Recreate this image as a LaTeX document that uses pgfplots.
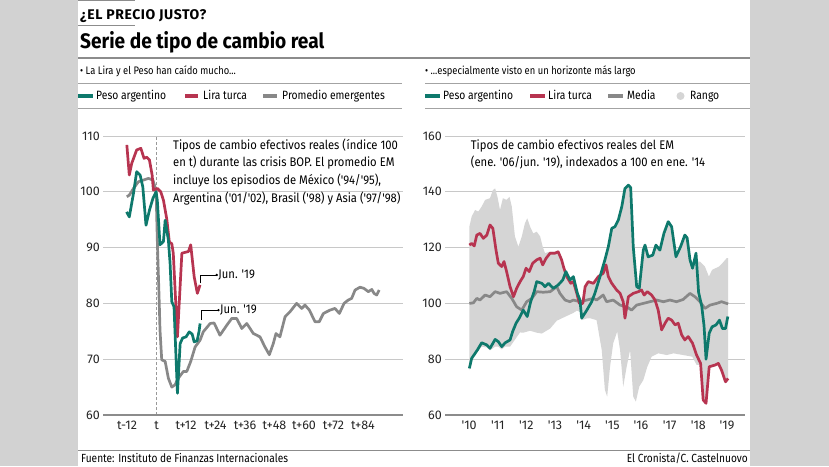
\documentclass[border=0pt]{standalone}
\usepackage{fontspec}
\setmainfont{Fira Sans}[FakeStretch=0.86, Numbers=Proportional]
\newfontfamily\plainfont{Fira Sans}[Numbers=Proportional]
\newfontfamily\annfont{Fira Sans}[FakeStretch=0.9, Numbers=Proportional]
\newfontfamily\kickfont{Fira Sans}[LetterSpace=4]
\newfontfamily\titlefont{Fira Sans}[FakeStretch=0.91]
\usepackage{pgfplots}
\pgfplotsset{compat=1.18}
\definecolor{teal1}{RGB}{14,121,108}
\definecolor{red1}{RGB}{183,52,80}
\definecolor{gray1}{RGB}{136,136,136}
\definecolor{band}{RGB}{213,213,213}
\definecolor{bg}{RGB}{210,210,210}
\definecolor{gridc}{RGB}{200,200,200}
\definecolor{rulec}{RGB}{140,140,140}
\newcommand{\fs}[1]{\fontsize{#1}{#1}\selectfont}
\pgfplotsset{mystyle/.style={
  scale only axis, width=300pt, height=279pt,
  axis line style={draw=none}, tick style={draw=none},
  ymajorgrids, major grid style={gridc, line width=0.7pt},
  clip=false,
  /pgf/number format/assume math mode=true,
  ticklabel style={font=\plainfont\fs{12.5}, text=black!85},
  yticklabel style={inner sep=0pt, xshift=-3pt},
  xticklabel style={inner sep=0pt, yshift=-6pt},
  every axis plot/.append style={line width=2.7pt, line join=round},
}}
\pgfplotstableread{
x y
-12.1 99.1
-11.1 99.4
-9.4 100.6
-7.4 101.8
-5.4 102.1
-3.3 102.4
-1.5 102.1
-0.2 100.3
0.3 91.4
1.1 80
1.4 75.2
2.1 69.9
3.5 69.6
4.8 66.6
6.2 65.0
7.5 65.4
8.7 66.5
10.9 67.8
12.3 67.8
13.9 69.6
15.7 72.2
17.7 73.4
19.0 74.9
21.8 76.4
23.4 76.5
25.8 74.3
28.6 76.1
30.6 77.3
32.6 77.3
34.7 75.5
36.7 76.4
39.4 74.6
42.1 74.0
44.1 72.2
45.9 70.8
47.5 72.8
48.6 74.6
50.2 74.0
52.3 77.6
54.3 78.5
57.0 80.0
59.1 79.1
60.4 79.7
62.2 78.8
64.5 76.7
66.2 76.7
67.9 78.2
70.6 78.8
72.6 79.1
74.4 78.2
76.3 80.0
78.0 80.6
79.4 80.9
80.8 82.4
82.8 82.9
84.4 82.7
86.2 82.1
87.6 82.5
88.5 81.8
89.6 81.5
90.6 82.4
}\emL
\pgfplotstableread{
x y
-12.1 108.4
-11.1 103
-10.1 105.1
-8.1 107.5
-6.4 107.8
-5.1 106
-4.0 106.2
-2.9 105.7
-1.8 103
-1.3 100.3
0.3 100.6
1.7 100
2.8 98.5
4.2 95
5.2 91
6.2 90.7
6.8 89
8.5 74
10.3 89
13.0 89.3
13.9 90.5
15.3 84.8
16.6 81.8
17.7 83.3
}\trL
\pgfplotstableread{
x y
-12.2 96.4
-11.1 95.5
-9.4 99.7
-8.1 103.6
-6.7 103
-5.6 100.9
-4.3 94
-2.9 96.7
-1.5 98.8
-0.2 100
0.3 98.5
1.4 90.5
2.8 91.1
3.5 94.9
4.8 91.4
5.5 87.2
6.2 80.3
7.1 79.4
8.5 63.9
9.6 72.8
10.6 73.8
12.0 74
13.3 74.9
14.5 74.5
15.3 73.1
16.5 73.3
17.3 75
17.7 76.4
}\arL
\pgfplotstableread{
x y
2010.01 76.7
2010.09 80.3
2010.21 82.1
2010.29 83.3
2010.44 85.9
2010.62 85.1
2010.73 83.9
2010.91 87.1
2011.02 86.3
2011.14 84.5
2011.26 85.9
2011.43 86.9
2011.52 89.9
2011.64 92.9
2011.75 94.7
2011.89 97.6
2012.03 95.3
2012.15 100.6
2012.27 104.2
2012.36 107.8
2012.54 107.2
2012.65 106
2012.77 107.2
2012.94 105.4
2013.11 106.6
2013.27 108.4
2013.38 111.4
2013.52 108.4
2013.64 109.6
2013.78 103.6
2013.87 101.2
2013.93 94.7
2014.11 97.6
2014.28 100.6
2014.39 103.6
2014.57 109.6
2014.74 115.6
2014.86 120.3
2014.98 126.9
2015.09 127.5
2015.21 129.9
2015.33 134.7
2015.44 141.2
2015.56 142.4
2015.64 141.5
2015.73 120.3
2015.85 106
2015.94 105.4
2016.08 119.1
2016.14 120.9
2016.25 116.7
2016.41 117.3
2016.52 120.9
2016.66 119.1
2016.80 125.1
2016.95 129.3
2017.07 127.5
2017.22 116.7
2017.38 120.3
2017.53 124.5
2017.61 123.5
2017.71 115.6
2017.80 112.6
2017.92 118
2018.01 104
2018.12 99
2018.20 92
2018.27 80
2018.38 89.3
2018.48 91.6
2018.62 92.3
2018.74 94
2018.84 91
2018.95 91
2019.03 95.3
}\arR
\pgfplotstableread{
x y
2010.01 120.9
2010.09 121.5
2010.18 120.6
2010.27 124.5
2010.38 125.1
2010.50 123.3
2010.62 124.5
2010.73 128.1
2010.83 126.9
2010.94 119.1
2011.02 114.4
2011.14 113.2
2011.22 115
2011.31 111.4
2011.43 106
2011.55 102.4
2011.66 105.4
2011.78 107.8
2011.89 109.6
2011.99 112.6
2012.10 111.4
2012.22 114.4
2012.36 115.6
2012.48 116.2
2012.57 113.8
2012.69 116.2
2012.83 118
2013.00 118
2013.11 118.5
2013.23 115.6
2013.31 112.6
2013.41 109.6
2013.55 107.2
2013.64 107.8
2013.76 103.6
2013.85 100
2013.97 100
2014.05 106
2014.16 107.8
2014.34 107.2
2014.51 109.6
2014.68 110.8
2014.78 113.8
2014.86 109.6
2014.98 107.2
2015.15 104.8
2015.27 103.6
2015.38 100.6
2015.44 94.7
2015.56 102.4
2015.73 103.6
2015.91 104.2
2016.02 104.8
2016.11 103
2016.22 104.2
2016.37 103
2016.49 101.2
2016.60 97.6
2016.72 90.5
2016.84 92.9
2016.95 94.7
2017.07 94
2017.19 92.3
2017.30 92.9
2017.42 88.7
2017.53 86.9
2017.65 88.1
2017.80 85.7
2017.94 81.5
2018.08 78.5
2018.17 65.4
2018.27 64.2
2018.38 77.3
2018.58 77.9
2018.70 78.5
2018.81 76.1
2018.95 71.9
2019.04 73.1
}\trR
\pgfplotstableread{
x y
2010.01 100
2010.15 100.2
2010.27 101.8
2010.38 101.2
2010.56 103
2010.73 102.4
2010.91 104.2
2011.08 103.6
2011.31 104.2
2011.49 101.8
2011.66 98.8
2011.84 97.6
2012.01 100.6
2012.19 101.8
2012.36 104.2
2012.59 104
2012.83 104.2
2013.06 106
2013.17 103.6
2013.35 101.2
2013.52 100.6
2013.64 101.2
2013.87 100.6
2014.11 101.2
2014.34 101.8
2014.45 101.2
2014.68 103
2014.80 100.6
2015.03 101.2
2015.27 99.4
2015.50 98.8
2015.67 97.6
2015.85 99.4
2016.08 100
2016.31 100.6
2016.55 101.2
2016.78 100.6
2017.01 101.2
2017.24 100.6
2017.47 101.4
2017.71 103.6
2017.88 102.4
2018.06 100.6
2018.23 98.2
2018.41 99.4
2018.64 100
2018.81 100.6
2018.99 100
2019.04 99.8
}\emR
% range band: upper edge forward, lower edge backward
\pgfplotstableread{
x y
2010.01 127.5
2010.09 131.1
2010.21 133.5
2010.32 132.9
2010.44 134.7
2010.56 137.1
2010.73 137.7
2010.83 140.6
2010.91 141.2
2010.99 138.2
2011.08 133.5
2011.18 137.7
2011.31 137.1
2011.41 138.2
2011.49 134.7
2011.60 124
2011.72 120.3
2011.84 124
2011.95 128.7
2012.03 130.5
2012.13 127.5
2012.24 125.1
2012.36 125.7
2012.48 124
2012.57 120.3
2012.65 118
2012.83 118.6
2013.00 118.6
2013.11 119
2013.23 116
2013.31 113
2013.38 111.8
2013.52 109
2013.64 110
2013.78 104
2013.87 101.5
2013.97 100.5
2014.05 106.5
2014.16 108.2
2014.34 107.6
2014.51 110
2014.57 110.2
2014.68 113
2014.74 116
2014.86 120.6
2014.98 127.2
2015.09 127.8
2015.21 130.2
2015.33 135
2015.44 141.5
2015.56 142.7
2015.64 141.8
2015.73 120.6
2015.85 106.5
2015.94 106
2016.08 119.4
2016.14 121.2
2016.25 117
2016.41 117.6
2016.52 121.2
2016.66 119.4
2016.80 125.4
2016.95 129.6
2017.07 127.8
2017.22 117
2017.38 120.6
2017.53 124.8
2017.61 123.8
2017.71 116
2017.80 113
2017.92 118.3
2018.00 115
2018.06 115
2018.23 113.2
2018.37 109.6
2018.48 112
2018.60 112.6
2018.72 113.2
2018.84 114.4
2018.99 116.2
2019.04 116.2
2019.04 72.6
2018.95 71.4
2018.81 75.6
2018.70 78
2018.58 77.4
2018.38 76.8
2018.27 63.8
2018.17 65
2018.08 78
2017.94 78
2017.79 80.9
2017.47 81.5
2017.13 82.1
2016.90 81.5
2016.60 82.1
2016.37 80.9
2016.22 77.3
2016.08 72.5
2015.94 70.2
2015.82 64.8
2015.73 66.6
2015.62 83.3
2015.50 77.3
2015.38 70.2
2015.27 83.3
2015.17 89.9
2015.03 85.7
2014.92 77.3
2014.82 66.6
2014.74 69
2014.63 83.3
2014.45 94
2014.22 94.7
2014.11 94.6
2013.93 94
2013.87 97
2013.76 97.4
2013.64 96.6
2013.41 95.5
2013.06 93.8
2012.83 91
2012.54 89.2
2012.36 89.5
2012.13 90.2
2011.89 89.5
2011.78 89.6
2011.60 87
2011.43 84.5
2011.26 84.5
2011.14 83.5
2011.02 84.5
2010.91 84.5
2010.73 83.2
2010.62 84.2
2010.44 84.5
2010.29 82.6
2010.21 81.5
2010.09 79.6
2010.01 76
}\bandP
\begin{document}
\begin{tikzpicture}[x=1pt,y=1pt]
\fill[bg] (0,0) rectangle (829,466);
\fill[white] (78,0) rectangle (750,466);
% header
\draw[rulec, line width=1pt] (78,465.3) -- (135,465.3);
\draw[rulec, line width=1pt] (78,440) -- (135,440);
\node[anchor=base west, inner sep=0pt] at (80,446) {\kickfont\fs{14}\bfseries ¿EL PRECIO JUSTO?};
\node[anchor=base west, inner sep=0pt] at (80,417) {\titlefont\fs{21}\bfseries Serie de tipo de cambio real};
\draw[rulec, line width=1.1pt] (78,408) -- (750,408);
\node[anchor=base west, inner sep=0pt] at (80,391.5) {\fs{10.9}• La Lira y el Peso han caído mucho...};
\node[anchor=base west, inner sep=0pt] at (425,391.5) {\fs{10.9}• ...especialmente visto en un horizonte más largo};
\draw[rulec!80, line width=0.8pt] (78,383) -- (402,383);
\draw[rulec!80, line width=0.8pt] (425,383) -- (750,383);
\draw[rulec!80, line width=0.8pt] (78,358) -- (402,358);
\draw[rulec!80, line width=0.8pt] (425,358) -- (750,358);
% legends
\draw[teal1, line width=3.5pt] (78,370) -- (93,370);
\node[anchor=base west, inner sep=0pt] at (96,366) {\fs{12}Peso argentino};
\draw[red1, line width=3.5pt] (185,370) -- (198,370);
\node[anchor=base west, inner sep=0pt] at (203,366) {\fs{12}Lira turca};
\draw[gray1, line width=3.5pt] (263,370) -- (277,370);
\node[anchor=base west, inner sep=0pt] at (282,366) {\fs{12}Promedio emergentes};
\draw[teal1, line width=3.5pt] (425,370) -- (440,370);
\node[anchor=base west, inner sep=0pt] at (443,366) {\fs{12}Peso argentino};
\draw[red1, line width=3.5pt] (530,370) -- (545,370);
\node[anchor=base west, inner sep=0pt] at (548,366) {\fs{12}Lira turca};
\draw[gray1, line width=3.5pt] (608,370) -- (623,370);
\node[anchor=base west, inner sep=0pt] at (627,366) {\fs{12}Media};
\fill[band] (680.5,370) circle (4pt);
\node[anchor=base west, inner sep=0pt] at (690,366) {\fs{12}Rango};
% left axis
\begin{axis}[mystyle, at={(103pt,51pt)}, anchor=south west,
  xmin=-21.8, xmax=100.3, ymin=60, ymax=110,
  ytick={60,70,...,110},
  xtick={-12,0,12,24,36,48,60,72,84},
  xticklabels={t-12,t,t+12,t+24,t+36,t+48,t+60,t+72,t+84}]
\draw[gray!80, line width=0.6pt, dash pattern=on 3pt off 2pt] (axis cs:0,60) -- (axis cs:0,110);
\draw[rulec, line width=1.3pt] (rel axis cs:0,0) -- (rel axis cs:1,0);
\addplot[gray1] table {\emL};
\addplot[red1] table {\trL};
\addplot[teal1] table {\arL};
\draw[black, line width=0.5pt] (axis cs:17.9,83.6) -- (axis cs:17.9,85.1) -- (axis cs:24.5,85.1);
\fill[black] (axis cs:24.5,85.1) circle (1.3pt);
\node[anchor=west, inner sep=0pt, xshift=1.5pt] at (axis cs:24.5,85.1) {\annfont\fs{12.5}Jun. '19};
\draw[black, line width=0.5pt] (axis cs:18.1,77) -- (axis cs:18.1,78.8) -- (axis cs:25.2,78.8);
\fill[black] (axis cs:25.2,78.8) circle (1.3pt);
\node[anchor=west, inner sep=0pt, xshift=1.5pt] at (axis cs:25.2,78.8) {\annfont\fs{12.5}Jun. '19};
\end{axis}
% right axis
\begin{axis}[mystyle, at={(445pt,51pt)}, anchor=south west,
  xmin=2009.16, xmax=2019.63, ymin=60, ymax=160,
  ytick={60,80,...,160},
  xtick={2010,2011,...,2019},
  xticklabels={'10,'11,'12,'13,'14,'15,'16,'17,'18,'19}]
\addplot[fill=band, draw=none, line width=0pt] table {\bandP};
\draw[rulec, line width=1.3pt] (rel axis cs:0,0) -- (rel axis cs:1,0);
\addplot[gray1] table {\emR};
\addplot[red1] table {\trR};
\addplot[teal1] table {\arR};
\end{axis}
% annotations
\node[anchor=base west, inner sep=0pt] at (173,316.7) {\annfont\fs{12.5}Tipos de cambio efectivos reales (índice 100};
\node[anchor=base west, inner sep=0pt] at (173,299) {\annfont\fs{12.5}en t) durante las crisis BOP. El promedio EM};
\node[anchor=base west, inner sep=0pt] at (173,281.3) {\annfont\fs{12.5}incluye los episodios de México ('94/'95),};
\node[anchor=base west, inner sep=0pt] at (173,263.6) {\annfont\fs{12.5}Argentina ('01/'02), Brasil ('98) y Asia ('97/'98)};
\node[anchor=base west, inner sep=0pt] at (470.7,316.7) {\annfont\fs{12.5}Tipos de cambio efectivos reales del EM};
\node[anchor=base west, inner sep=0pt] at (470.7,299) {\annfont\fs{12.5}(ene. '06/jun. '19), indexados a 100 en ene. '14};
% footer
\draw[rulec, line width=1pt] (78,16) -- (750,16);
\node[anchor=base west, inner sep=0pt] at (81,4) {\fs{11.8}Fuente: Instituto de Finanzas Internacionales};
\node[anchor=base east, inner sep=0pt] at (748,4) {\fs{11.8}El Cronista/C. Castelnuovo};
\end{tikzpicture}
\end{document}
